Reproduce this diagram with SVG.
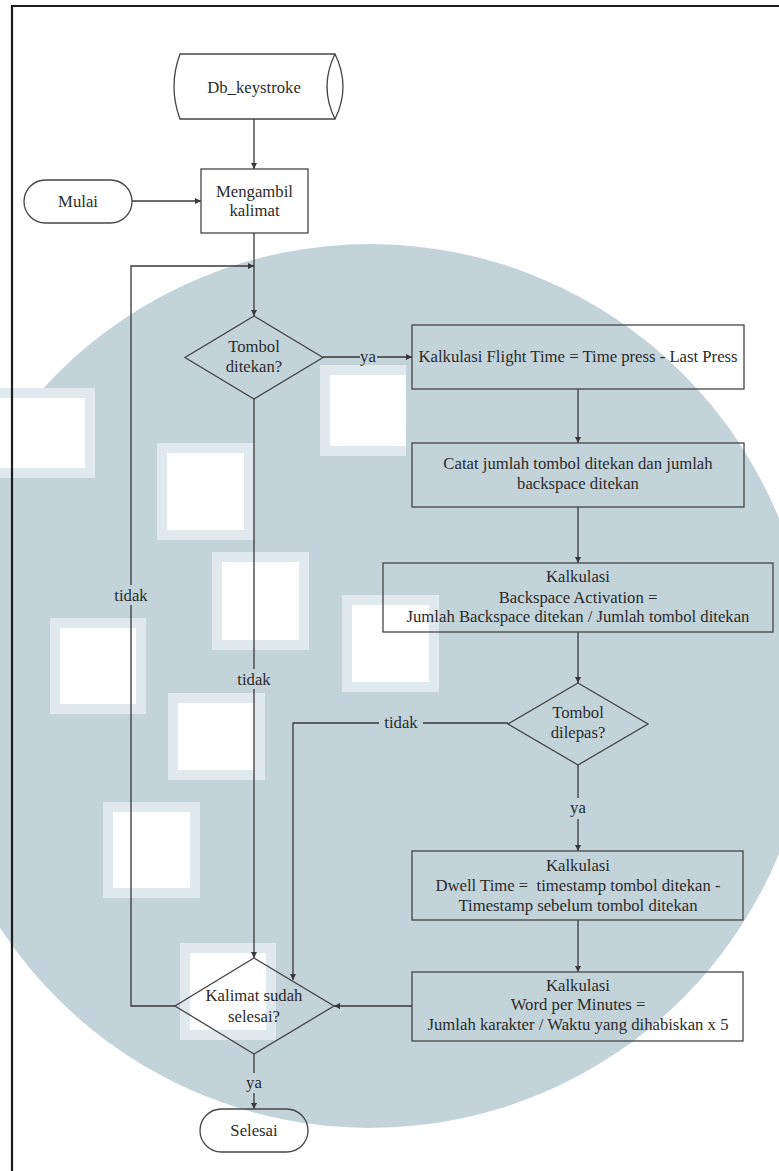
<svg xmlns="http://www.w3.org/2000/svg" width="779" height="1171" viewBox="0 0 779 1171">
  <style>
    .bg { fill: #ffffff; }
    .mark { fill: #c3d3da; }
    .rim { fill: #e0e9ed; }
    .hole { fill: #ffffff; }
    .frame { fill: none; stroke: #1e1e1e; stroke-width: 2.2; }
    .shape { fill: none; stroke: #454545; stroke-width: 1.3; }
    .line { fill: none; stroke: #383838; stroke-width: 1.3; }
    .txt { font-family: "Liberation Serif", "Times New Roman", serif; font-size: 16.7px; fill: #2b2b2b; text-anchor: middle; white-space: pre; }
  </style>
  <defs>
    <marker id="arrow" viewBox="0 0 10 10" refX="10" refY="5" markerWidth="6" markerHeight="6" markerUnits="userSpaceOnUse" orient="auto">
      <path d="M0,0 L10,5 L0,10 z" fill="#383838"/>
    </marker>
  </defs>

  <rect class="bg" x="0" y="0" width="779" height="1171"/>

  <!-- background watermark: large disc with blocky light patches -->
  <g id="watermark">
    <circle class="mark" cx="370" cy="686" r="442"/>
    <rect class="rim" x="320" y="365" width="86" height="91"/>
    <rect class="hole" x="330" y="375" width="76" height="71"/>
    <rect class="rim" x="0" y="388" width="95" height="90"/>
    <rect class="hole" x="0" y="398" width="85" height="70"/>
    <rect class="rim" x="157" y="443" width="97" height="97"/>
    <rect class="hole" x="167" y="453" width="77" height="77"/>
    <rect class="rim" x="212" y="552" width="97" height="98"/>
    <rect class="hole" x="222" y="562" width="77" height="78"/>
    <rect class="rim" x="342" y="595" width="97" height="97"/>
    <rect class="hole" x="352" y="605" width="77" height="77"/>
    <rect class="rim" x="50" y="618" width="96" height="96"/>
    <rect class="hole" x="60" y="628" width="76" height="76"/>
    <rect class="rim" x="168" y="693" width="97" height="87"/>
    <rect class="hole" x="178" y="703" width="77" height="67"/>
    <rect class="rim" x="103" y="802" width="97" height="96"/>
    <rect class="hole" x="113" y="812" width="77" height="76"/>
    <rect class="rim" x="180" y="943" width="96" height="97"/>
    <rect class="hole" x="190" y="953" width="76" height="77"/>
  </g>

  <!-- page frame -->
  <path class="frame" d="M12,1171 V6 H779"/>

  <!-- connectors -->
  <g id="connectors">
    <path class="line" d="M254,119 V169" marker-end="url(#arrow)"/>
    <path class="line" d="M132,201 H201" marker-end="url(#arrow)"/>
    <path class="line" d="M254,233 V316" marker-end="url(#arrow)"/>
    <!-- loop back when the sentence is not finished -->
    <path class="line" d="M175,1006 H131 V605"/>
    <path class="line" d="M131,585 V266 H254" marker-end="url(#arrow)"/>
    <text class="txt" x="131" y="601">tidak</text>
    <!-- key pressed: yes -->
    <path class="line" d="M323,357 H360"/>
    <text class="txt" x="368" y="362">ya</text>
    <path class="line" d="M377,357 H412" marker-end="url(#arrow)"/>
    <!-- key pressed: no -->
    <path class="line" d="M254,399 V669"/>
    <text class="txt" x="254" y="685">tidak</text>
    <path class="line" d="M254,689 V958" marker-end="url(#arrow)"/>
    <path class="line" d="M578,389 V443" marker-end="url(#arrow)"/>
    <path class="line" d="M578,507 V563" marker-end="url(#arrow)"/>
    <path class="line" d="M578,632 V683" marker-end="url(#arrow)"/>
    <!-- key released: no -->
    <path class="line" d="M508,723 H423"/>
    <text class="txt" x="401" y="728">tidak</text>
    <path class="line" d="M379,723 H293 V980" marker-end="url(#arrow)"/>
    <!-- key released: yes -->
    <path class="line" d="M578,765 V798"/>
    <text class="txt" x="578" y="813">ya</text>
    <path class="line" d="M578,819 V851" marker-end="url(#arrow)"/>
    <path class="line" d="M578,920 V972" marker-end="url(#arrow)"/>
    <path class="line" d="M412,1006 H334" marker-end="url(#arrow)"/>
    <!-- sentence finished: yes -->
    <path class="line" d="M254,1054 V1073"/>
    <text class="txt" x="254" y="1088">ya</text>
    <path class="line" d="M254,1093 V1109" marker-end="url(#arrow)"/>
  </g>

  <g id="db-keystroke">
    <path class="shape" d="M180,54 H335 Q351,86.5 335,119 H180 Q168,86.5 180,54 Z"/>
    <path class="shape" d="M335,54 Q319,86.5 335,119"/>
    <text class="txt" x="254" y="93">Db_keystroke</text>
  </g>

  <g id="mulai">
    <rect class="shape" x="24" y="180" width="108" height="43" rx="21.5"/>
    <text class="txt" x="78" y="207">Mulai</text>
  </g>

  <g id="mengambil-kalimat">
    <rect class="shape" x="201" y="169" width="107" height="64"/>
    <text class="txt" x="254.5" y="197">Mengambil</text>
    <text class="txt" x="254.5" y="216">kalimat</text>
  </g>

  <g id="tombol-ditekan">
    <path class="shape" d="M254,316 L323,357.5 L254,399 L185,357.5 Z"/>
    <text class="txt" x="254" y="352">Tombol</text>
    <text class="txt" x="254" y="372">ditekan?</text>
  </g>

  <g id="flight-time">
    <rect class="shape" x="412" y="325" width="332" height="64"/>
    <text class="txt" x="578" y="362">Kalkulasi Flight Time = Time press - Last Press</text>
  </g>

  <g id="catat-jumlah">
    <rect class="shape" x="412" y="443" width="332" height="64"/>
    <text class="txt" x="578" y="469">Catat jumlah tombol ditekan dan jumlah</text>
    <text class="txt" x="578" y="489">backspace ditekan</text>
  </g>

  <g id="backspace-activation">
    <rect class="shape" x="383" y="563" width="390" height="69"/>
    <text class="txt" x="578" y="582">Kalkulasi</text>
    <text class="txt" x="578" y="603">Backspace Activation =</text>
    <text class="txt" x="578" y="622">Jumlah Backspace ditekan / Jumlah tombol ditekan</text>
  </g>

  <g id="tombol-dilepas">
    <path class="shape" d="M578,683 L648,724 L578,765 L508,724 Z"/>
    <text class="txt" x="578" y="718">Tombol</text>
    <text class="txt" x="578" y="738">dilepas?</text>
  </g>

  <g id="dwell-time">
    <rect class="shape" x="412" y="851" width="331" height="69"/>
    <text class="txt" x="578" y="871">Kalkulasi</text>
    <text class="txt" x="578" y="891">Dwell Time =  timestamp tombol ditekan -</text>
    <text class="txt" x="578" y="911">Timestamp sebelum tombol ditekan</text>
  </g>

  <g id="word-per-minutes">
    <rect class="shape" x="412" y="972" width="331" height="69"/>
    <text class="txt" x="578" y="991">Kalkulasi</text>
    <text class="txt" x="578" y="1010">Word per Minutes =</text>
    <text class="txt" x="578" y="1030">Jumlah karakter / Waktu yang dihabiskan x 5</text>
  </g>

  <g id="kalimat-selesai">
    <path class="shape" d="M254,958 L334,1006 L254,1054 L175,1006 Z"/>
    <text class="txt" x="254" y="1001">Kalimat sudah</text>
    <text class="txt" x="254" y="1022">selesai?</text>
  </g>

  <g id="selesai">
    <rect class="shape" x="200" y="1109" width="108" height="43" rx="21.5"/>
    <text class="txt" x="254" y="1136">Selesai</text>
  </g>
</svg>
